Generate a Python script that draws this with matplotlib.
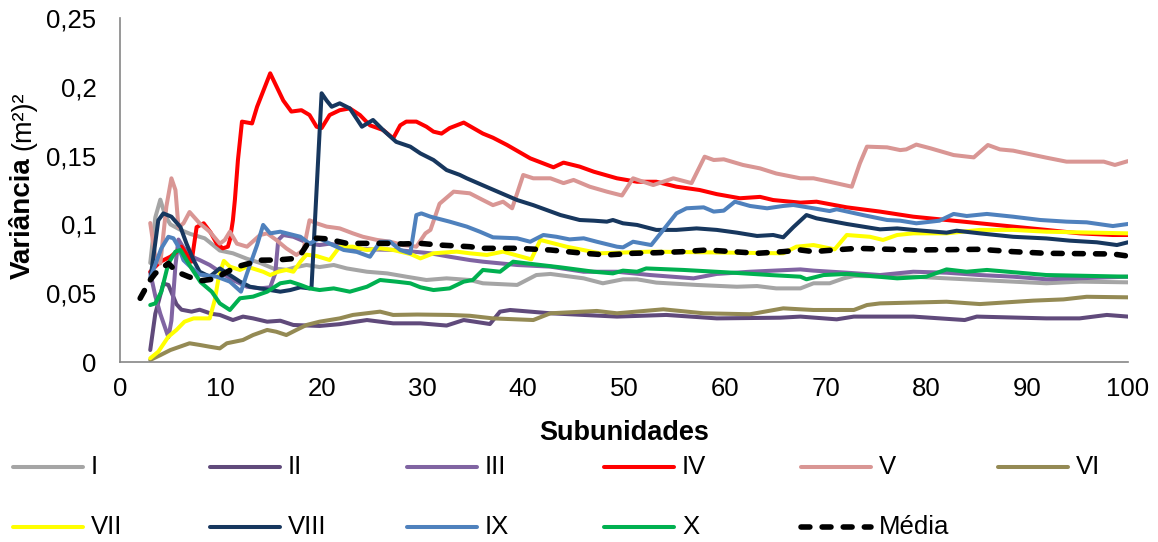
import matplotlib
matplotlib.use('Agg')
import matplotlib.pyplot as plt
from matplotlib.lines import Line2D

plt.rcParams['font.family'] = ['Liberation Sans', 'DejaVu Sans']

# series values (x = subunidades, y = variância)
x_I = [3, 3.5, 4, 4.5, 5, 6, 7, 8.4, 8.9, 9.9, 11.2, 12.6, 13.9, 15.2, 16.5, 17.5, 18.5, 19.8, 21.2, 22.5,
       24.5, 26.5, 28.4, 30.4, 32.4, 34.7, 36.0, 39.4, 41.3, 42.7, 46.0, 47.9, 49.9, 51.3, 53.2, 57.2, 61.2,
       63.2, 65.1, 67.5, 68.8, 70.4, 71.8, 72.8, 78.7, 85.3, 91.9, 95.2, 100]
y_I = [0.072, 0.105, 0.118, 0.106, 0.100, 0.096, 0.093, 0.0899, 0.087, 0.081, 0.079, 0.075, 0.072, 0.068,
       0.067, 0.069, 0.0705, 0.069, 0.0705, 0.068, 0.0656, 0.0644, 0.062, 0.0596, 0.0608, 0.0596, 0.0572,
       0.056, 0.0632, 0.064, 0.0608, 0.0572, 0.0601, 0.0601, 0.0577, 0.056, 0.0547, 0.0552, 0.0535, 0.0535,
       0.0572, 0.0572, 0.0608, 0.0625, 0.062, 0.0596, 0.0572, 0.0584, 0.0579]

x_II = [3, 3.5, 4.3, 4.8, 5.6, 6.1, 7.1, 7.9, 9.1, 9.9, 11.2, 12.2, 13.2, 14.6, 15.9, 17.2, 19.8, 21.8, 24.5,
        27.1, 29.8, 32.4, 34.1, 36.7, 37.7, 38.7, 42.7, 49.3, 54.2, 59.2, 65.5, 67.5, 71.1, 72.8, 78.7, 83.8,
        85.0, 91.9, 95.2, 97.9, 100]
y_II = [0.0087, 0.035, 0.057, 0.056, 0.042, 0.038, 0.0366, 0.038, 0.035, 0.0342, 0.0305, 0.033, 0.0317,
        0.0293, 0.030, 0.0269, 0.0262, 0.0275, 0.0305, 0.0281, 0.0281, 0.0265, 0.0305, 0.0276, 0.0366, 0.0378,
        0.0354, 0.033, 0.0342, 0.0317, 0.0322, 0.033, 0.031, 0.033, 0.033, 0.0305, 0.033, 0.0317, 0.0317,
        0.0342, 0.033]

x_III = [3, 3.5, 4, 4.8, 5.1, 5.5, 5.8, 6.3, 7.3, 7.9, 8.9, 9.9, 11.2, 12.6, 13.9, 14.9, 15.4, 15.7, 16.2,
         17.2, 18.8, 19.8, 20.8, 22.0, 24.1, 27.4, 30.8, 32.7, 34.7, 36.0, 39.4, 42.7, 46.0, 49.3, 52.6, 56.9,
         59.2, 62.5, 67.5, 68.8, 72.1, 75.4, 78.7, 82.0, 85.3, 88.6, 91.9, 100]
y_III = [0.065, 0.048, 0.035, 0.018, 0.03, 0.07, 0.089, 0.083, 0.076, 0.0741, 0.0705, 0.0656, 0.0596, 0.0547,
         0.0535, 0.0543, 0.0644, 0.0887, 0.0923, 0.091, 0.086, 0.085, 0.086, 0.084, 0.082, 0.0814, 0.079,
         0.0765, 0.0741, 0.0729, 0.0705, 0.0693, 0.0656, 0.0656, 0.0632, 0.0608, 0.064, 0.0656, 0.0673,
         0.0664, 0.0649, 0.0632, 0.0656, 0.0649, 0.0632, 0.062, 0.0601, 0.062]

x_IV = [3, 4.0, 5.0, 5.6, 6.1, 7.1, 7.6, 8.3, 9.0, 9.6, 10.2, 10.7, 10.9, 11.2, 11.4, 11.7, 12.1, 13.1, 13.6,
        14.9, 16.2, 17.0, 18.0, 18.8, 19.5, 20.0, 20.8, 21.8, 22.8, 23.8, 24.8, 26.1, 27.1, 27.8, 28.4, 29.4,
        30.4, 31.1, 31.9, 32.7, 34.1, 36.0, 37.0, 38.4, 40.7, 43.0, 44.0, 45.6, 47.0, 49.3, 51.3, 53.2, 55.2,
        57.5, 59.2, 61.5, 63.5, 64.8, 67.5, 69.1, 72.1, 75.4, 78.7, 82.0, 85.3, 88.6, 91.9, 95.2, 98.5, 100]
y_IV = [0.0656, 0.0729, 0.0765, 0.080, 0.0838, 0.0729, 0.098, 0.1008, 0.094, 0.086, 0.0826, 0.0838, 0.0887,
        0.103, 0.118, 0.1468, 0.1747, 0.1734, 0.1855, 0.2098, 0.190, 0.182, 0.183, 0.1795, 0.171, 0.170,
        0.1795, 0.183, 0.1843, 0.1795, 0.172, 0.1686, 0.1625, 0.172, 0.1747, 0.1747, 0.171, 0.1674, 0.166,
        0.170, 0.174, 0.166, 0.163, 0.1577, 0.148, 0.1415, 0.1449, 0.142, 0.1383, 0.1335, 0.131, 0.131,
        0.1274, 0.125, 0.122, 0.119, 0.120, 0.1177, 0.1158, 0.1165, 0.1124, 0.1093, 0.1056, 0.1032, 0.1008,
        0.0984, 0.096, 0.0935, 0.0923, 0.0923]

x_V = [3, 3.5, 4.0, 4.6, 5.1, 5.5, 5.8, 6.3, 6.9, 7.9, 8.9, 9.9, 10.4, 10.9, 11.6, 12.6, 13.9, 14.6, 15.5,
       16.5, 17.5, 18.2, 18.8, 19.5, 20.5, 21.8, 23.1, 24.1, 25.5, 26.8, 28.1, 29.4, 30.3, 30.8, 31.7, 33.1,
       34.7, 36.0, 37.0, 38.0, 38.9, 39.4, 40.0, 41.0, 42.7, 44.0, 45.0, 46.6, 48.3, 49.8, 50.9, 51.9, 52.9,
       54.9, 56.7, 58.0, 58.9, 59.9, 61.8, 63.5, 65.1, 67.5, 68.8, 70.4, 72.6, 73.4, 74.1, 76.1, 77.4, 78.0,
       79.0, 80.4, 82.7, 84.7, 86.1, 87.3, 88.6, 91.9, 93.9, 97.6, 98.7, 100]
y_V = [0.101, 0.0765, 0.0717, 0.113, 0.1335, 0.125, 0.098, 0.1008, 0.109, 0.1008, 0.0947, 0.086, 0.0887,
       0.0947, 0.086, 0.0838, 0.0923, 0.0935, 0.0887, 0.0826, 0.0778, 0.0814, 0.103, 0.1008, 0.0984, 0.0971,
       0.0935, 0.091, 0.0887, 0.0874, 0.085, 0.0838, 0.0935, 0.096, 0.115, 0.1238, 0.1226, 0.1177, 0.114,
       0.1165, 0.1117, 0.1226, 0.1359, 0.1335, 0.1335, 0.130, 0.1323, 0.1274, 0.1238, 0.121, 0.1335, 0.131,
       0.1286, 0.1335, 0.130, 0.1492, 0.1468, 0.1473, 0.1432, 0.1407, 0.137, 0.1335, 0.1335, 0.131, 0.1274,
       0.1444, 0.1565, 0.156, 0.154, 0.1545, 0.158, 0.1553, 0.1504, 0.1487, 0.1577, 0.1545, 0.1536, 0.1485,
       0.1456, 0.1456, 0.1432, 0.146]

x_VI = [3, 4.0, 5.0, 6.9, 7.9, 8.9, 9.9, 10.6, 12.2, 13.2, 14.6, 15.5, 16.5, 17.5, 18.5, 19.8, 20.8, 21.8,
        23.1, 25.8, 27.1, 29.5, 32.7, 34.7, 37.0, 41.0, 42.7, 47.3, 49.3, 53.9, 57.9, 62.5, 65.8, 67.5, 68.8,
        72.8, 74.1, 75.4, 82.0, 85.3, 90.6, 93.6, 95.9, 100]
y_VI = [0.0015, 0.005, 0.0087, 0.0136, 0.0124, 0.0111, 0.0099, 0.0136, 0.016, 0.0196, 0.0233, 0.022, 0.0196,
        0.0233, 0.0269, 0.0293, 0.0305, 0.0317, 0.0342, 0.0366, 0.0342, 0.0345, 0.0342, 0.0336, 0.0317,
        0.0305, 0.0354, 0.0371, 0.0354, 0.0383, 0.0354, 0.0347, 0.039, 0.0383, 0.0378, 0.0378, 0.0414,
        0.0426, 0.0438, 0.0421, 0.0446, 0.0455, 0.0474, 0.047]

x_VII = [3, 3.8, 4.8, 5.6, 6.4, 7.3, 8.9, 9.4, 9.8, 10.3, 10.9, 11.9, 12.6, 14.2, 14.9, 15.7, 16.5, 17.2, 17.9,
         18.5, 19.5, 20.8, 21.8, 23.1, 24.5, 25.8, 27.1, 28.8, 29.8, 31.1, 33.4, 34.7, 36.4, 38.0, 40.8, 41.7,
         44.3, 47.6, 52.6, 65.8, 67.1, 68.8, 70.9, 72.1, 74.4, 75.7, 77.1, 78.7, 82.0, 85.3, 88.6, 91.9, 100]
y_VII = [0.0027, 0.0075, 0.0184, 0.0233, 0.0293, 0.0317, 0.0317, 0.045, 0.062, 0.0735, 0.0693, 0.0669,
         0.0693, 0.0656, 0.0632, 0.0656, 0.0669, 0.0656, 0.0729, 0.078, 0.077, 0.0741, 0.0838, 0.0838, 0.0814,
         0.0826, 0.0814, 0.0785, 0.0753, 0.079, 0.0802, 0.079, 0.0778, 0.0802, 0.0746, 0.0887, 0.0838, 0.079,
         0.0802, 0.079, 0.0838, 0.085, 0.0819, 0.0923, 0.091, 0.0887, 0.0923, 0.0935, 0.0935, 0.096, 0.096,
         0.0947, 0.0935]

x_VIII = [3, 3.8, 4.3, 5.1, 6.0, 6.6, 7.3, 7.9, 8.9, 9.9, 10.9, 11.9, 12.9, 14.9, 15.9, 16.9, 17.9, 18.8, 19.0,
          20.0, 20.5, 21.0, 21.8, 22.8, 24.0, 25.1, 26.1, 27.4, 28.8, 29.8, 31.1, 32.4, 33.7, 34.4, 36.7, 39.4,
          41.0, 43.7, 45.6, 47.0, 48.3, 48.9, 49.9, 51.3, 53.2, 55.2, 57.2, 59.2, 61.2, 63.2, 64.8, 65.8, 66.8,
          68.1, 69.1, 72.1, 75.4, 77.1, 78.7, 82.0, 83.0, 85.3, 88.6, 91.9, 94.2, 96.9, 98.9, 100]
y_VIII = [0.0596, 0.103, 0.108, 0.1056, 0.098, 0.086, 0.074, 0.0656, 0.062, 0.068, 0.0632, 0.0584, 0.0547,
          0.0523, 0.0511, 0.0523, 0.0543, 0.0535, 0.0543, 0.1953, 0.190, 0.1855, 0.188, 0.1843, 0.171, 0.1759,
          0.1686, 0.160, 0.1565, 0.1516, 0.1468, 0.1395, 0.136, 0.1335, 0.1262, 0.1177, 0.114, 0.1068, 0.1032,
          0.1027, 0.102, 0.1032, 0.1008, 0.0996, 0.096, 0.096, 0.0971, 0.096, 0.094, 0.0916, 0.0923, 0.0906,
          0.098, 0.1068, 0.1044, 0.1003, 0.0964, 0.0971, 0.096, 0.094, 0.0954, 0.0935, 0.091, 0.0898, 0.0882,
          0.087, 0.085, 0.087]

x_IX = [3, 4.1, 4.8, 5.3, 5.8, 6.3, 6.8, 7.9, 9.6, 10.9, 12.0, 12.6, 13.6, 14.2, 14.9, 15.9, 17.9, 18.8, 19.8,
        20.8, 22.2, 23.5, 24.8, 25.8, 26.8, 27.8, 28.8, 29.4, 29.9, 30.8, 32.7, 34.4, 35.7, 37.0, 39.4, 40.7,
        42.0, 43.3, 44.6, 46.0, 47.3, 49.3, 49.9, 50.9, 52.7, 53.9, 55.2, 56.2, 57.9, 58.9, 59.9, 61.0, 62.5,
        64.2, 65.8, 66.8, 68.8, 70.4, 71.1, 73.7, 76.1, 77.4, 79.0, 81.3, 82.7, 84.0, 86.0, 88.6, 91.3, 93.9,
        95.9, 98.5, 100]
y_IX = [0.0608, 0.0826, 0.091, 0.0899, 0.0838, 0.074, 0.0705, 0.0635, 0.062, 0.0584, 0.0511, 0.0644, 0.085,
        0.0996, 0.0935, 0.0947, 0.091, 0.086, 0.0899, 0.086, 0.0814, 0.080, 0.0765, 0.0874, 0.0874, 0.0814,
        0.079, 0.1068, 0.108, 0.1056, 0.102, 0.0984, 0.0947, 0.0906, 0.0899, 0.0874, 0.0923, 0.091, 0.0891,
        0.0899, 0.0874, 0.0838, 0.0833, 0.0874, 0.085, 0.096, 0.108, 0.1117, 0.1124, 0.1093, 0.11, 0.1165,
        0.1134, 0.1117, 0.1134, 0.1141, 0.1117, 0.1097, 0.111, 0.1068, 0.1032, 0.1027, 0.1008, 0.1027, 0.1076,
        0.1061, 0.1076, 0.1056, 0.1032, 0.102, 0.1015, 0.0988, 0.1003]

x_X = [3, 3.5, 4.1, 4.8, 5.5, 6.0, 6.4, 7.1, 8.0, 9.1, 9.9, 10.9, 11.6, 11.9, 13.2, 14.6, 15.9, 16.9, 17.9,
       18.8, 19.8, 21.2, 22.8, 24.5, 25.8, 27.4, 28.8, 29.8, 31.1, 32.7, 34.1, 35.0, 36.0, 37.7, 39.0, 40.3,
       43.7, 47.0, 48.9, 49.9, 51.3, 52.2, 55.9, 60.8, 64.5, 67.5, 68.1, 69.8, 72.1, 77.1, 80.0, 82.0, 84.0,
       86.0, 91.9, 100]
y_X = [0.0414, 0.0426, 0.0511, 0.0717, 0.0802, 0.0814, 0.0765, 0.068, 0.058, 0.0511, 0.0426, 0.0378, 0.0438,
       0.0463, 0.0475, 0.0511, 0.0572, 0.0584, 0.056, 0.0535, 0.0523, 0.0535, 0.0511, 0.0547, 0.0596, 0.0584,
       0.0572, 0.0543, 0.0523, 0.0535, 0.0584, 0.0596, 0.0669, 0.0656, 0.0729, 0.0717, 0.0688, 0.0656, 0.0644,
       0.0664, 0.0656, 0.068, 0.0669, 0.0649, 0.0632, 0.062, 0.0601, 0.0632, 0.064, 0.0608, 0.062, 0.0673,
       0.0656, 0.0669, 0.0632, 0.062]

x_media = [2, 3, 3.5, 4.8, 5.6, 6.8, 8.0, 9.0, 10.0, 11.0, 12.0, 13.0, 14.0, 15.5, 17.0, 18.0, 18.7, 19.5,
           20.5, 22.5, 24.5, 26.5, 28.1, 29.8, 31.7, 34.7, 36.0, 39.4, 42.7, 46.0, 48.3, 50.9, 53.2, 55.9, 58.2,
           60.8, 63.2, 65.8, 67.5, 68.8, 70.8, 73.1, 78.7, 85.3, 88.6, 91.9, 98.5, 100]
y_media = [0.0463, 0.0596, 0.0644, 0.0717, 0.0656, 0.062, 0.059, 0.06, 0.063, 0.067, 0.07, 0.072, 0.074,
           0.0741, 0.075, 0.079, 0.087, 0.09, 0.0895, 0.0862, 0.0862, 0.0862, 0.0858, 0.0862, 0.085, 0.0838,
           0.0826, 0.0826, 0.0814, 0.079, 0.0778, 0.079, 0.0794, 0.0802, 0.0814, 0.0802, 0.079, 0.0802, 0.0814,
           0.0802, 0.0814, 0.0826, 0.0814, 0.0819, 0.0802, 0.079, 0.0785, 0.077]

names = ['I', 'II', 'III', 'IV', 'V', 'VI', 'VII', 'VIII', 'IX', 'X']
colors = ['#A5A5A5', '#604A7B', '#8064A2', '#FF0000', '#D99694', '#948A54',
          '#FFFF00', '#17375E', '#4F81BD', '#00B050']
xs = [x_I, x_II, x_III, x_IV, x_V, x_VI, x_VII, x_VIII, x_IX, x_X]
ys = [y_I, y_II, y_III, y_IV, y_V, y_VI, y_VII, y_VIII, y_IX, y_X]

xticks = [0, 10, 20, 30, 40, 50, 60, 70, 80, 90, 100]
yticks = [0, 0.05, 0.1, 0.15, 0.2, 0.25]
ytick_labels = ['0', '0,05', '0,1', '0,15', '0,2', '0,25']

W, H = 1158, 542
fig = plt.figure(figsize=(W / 100, H / 100), dpi=100)
ax = fig.add_axes([120 / W, 1 - 362 / H, 1008 / W, 344 / H])

for x, y, c in zip(xs, ys, colors):
    ax.plot(x, y, color=c, lw=2.9, solid_joinstyle='round', solid_capstyle='round')
ax.plot(x_media, y_media, color='black', lw=4, dashes=(1.6, 2.2), dash_capstyle='round')

ax.set_xlim(0, 100)
ax.set_ylim(0, 0.25)
ax.set_xticks(xticks)
ax.set_xticklabels([str(t) for t in xticks])
ax.set_yticks(yticks)
ax.set_yticklabels(ytick_labels)
ax.tick_params(axis='both', length=0, labelsize=18.5, colors='black')
ax.tick_params(axis='x', pad=11)
ax.tick_params(axis='y', pad=17)
for s in ['top', 'right']:
    ax.spines[s].set_visible(False)
for s in ['left', 'bottom']:
    ax.spines[s].set_color('#868686')
    ax.spines[s].set_linewidth(1.2)

fig.text(624 / W, 1 - 433 / H, 'Subunidades', ha='center', va='center', fontsize=19.5, fontweight='bold')
fig.text(23 / W, 1 - 218 / H, 'Variância', ha='center', va='center', rotation=90, fontsize=20, fontweight='bold')
fig.text(23 / W, 1 - 121 / H, '(m²)²', ha='center', va='center', rotation=90, fontsize=19.5)

# legend drawn as two rows of six columns
labels = names + ['Média']
for i, lab in enumerate(labels):
    row, col = divmod(i, 6)
    x0 = 13 + 197 * col
    yy = 1 - (467 + 60 * row) / H
    if lab == 'Média':
        ln = Line2D([x0 / W, (x0 + 70) / W], [yy, yy], color='black', lw=4, dashes=(1.6, 2.2),
                    dash_capstyle='round', transform=fig.transFigure)
    else:
        ln = Line2D([x0 / W, (x0 + 70) / W], [yy, yy], color=colors[i], lw=2.9,
                    solid_capstyle='round', transform=fig.transFigure)
    fig.add_artist(ln)
    fig.text((x0 + 78) / W, yy, lab, ha='left', va='center', fontsize=18.5)

fig.savefig('out.png', dpi=100)
